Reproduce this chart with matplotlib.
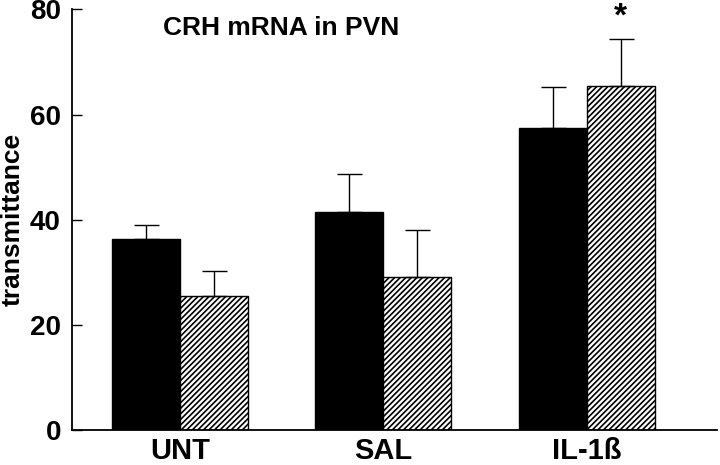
import numpy as np
import matplotlib.pyplot as plt

plt.rcParams['font.family'] = ['Liberation Sans', 'DejaVu Sans']
plt.rcParams['font.weight'] = 'bold'
plt.rcParams['hatch.linewidth'] = 1.2

# data
groups = ['UNT', 'SAL', 'IL-1\u00df']
black_vals = [36.3, 41.5, 57.5]
black_err = [2.7, 7.2, 7.8]
hatch_vals = [25.5, 29.1, 65.4]
hatch_err = [4.7, 8.9, 9.0]
yticks = [0, 20, 40, 60, 80]

fig = plt.figure(figsize=(7.2, 4.65), dpi=100)
ax = fig.add_axes([0.1, 0.075, 0.896, 0.905])

x = np.arange(len(groups))
w = 0.334
zeros = np.zeros(len(groups))
ekw = dict(ecolor='black', elinewidth=1.0, capsize=9, capthick=1.0)

ax.bar(x - w / 2, black_vals, w, color='black', edgecolor='black', linewidth=1,
       yerr=[zeros, black_err], error_kw=ekw)
ax.bar(x + w / 2, hatch_vals, w, color='white', edgecolor='black', linewidth=1,
       hatch='//////', yerr=[zeros, hatch_err], error_kw=ekw)

# significance marker
ax.text(x[2] + w / 2, 78.5, '*', ha='center', va='center', fontsize=24, fontweight='bold')

ax.text(0.141, 0.955, 'CRH mRNA in PVN', transform=ax.transAxes, fontsize=19,
        fontweight='bold', ha='left', va='center')

ax.set_xlim(-0.53, 2.64)
ax.set_ylim(0, 80)
ax.set_yticks(yticks)
ax.set_xticks(x)
ax.set_xticklabels(groups, fontsize=21, fontweight='bold')
ax.tick_params(axis='x', length=0, pad=5)
ax.tick_params(axis='y', direction='in', length=7, width=1, labelsize=20, pad=8)
ax.set_ylabel('transmittance', fontsize=19, fontweight='bold', labelpad=4)

for s in ['top', 'right']:
    ax.spines[s].set_visible(False)
for s in ['left', 'bottom']:
    ax.spines[s].set_linewidth(1.3)

fig.savefig('out.png', dpi=100)
